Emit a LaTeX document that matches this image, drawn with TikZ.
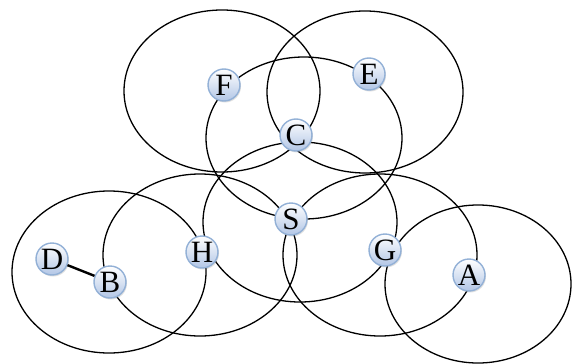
\documentclass[tikz,border=0pt]{standalone}
\usepackage{fontspec}
\setmainfont{Liberation Serif}
\usepackage{xcolor}
\definecolor{BallEdge}{RGB}{146,176,214}
\definecolor{BallFill}{RGB}{178,198,230}
\usepackage{tikz}
\usetikzlibrary{shadows}

\tikzset{
  cover/.style={draw=black,line width=1.3pt},
  sensor/.style={circle,minimum size=32pt,inner sep=0pt,draw=BallEdge,line width=1.4pt,
    top color=white,bottom color=BallFill,font=\fontsize{31}{31}\selectfont,
    drop shadow={shadow xshift=1pt,shadow yshift=-1.5pt,opacity=0.25}},
}

\begin{document}
\begin{tikzpicture}[x=1pt,y=-1pt]
  \useasboundingbox (0,0) rectangle (573,364);
  % coverage ranges
  \draw[cover] (222,91) ellipse (98 and 81);
  \draw[cover] (365,92) ellipse (98 and 81);
  \draw[cover] (304,138) ellipse (98 and 81);
  \draw[cover] (300,222) ellipse (97 and 80);
  \draw[cover] (200,255) ellipse (97 and 81);
  \draw[cover] (109,272) ellipse (97 and 81);
  \draw[cover] (380,255) ellipse (97 and 81);
  \draw[cover] (478,284) ellipse (93 and 79);
  % nodes
  \node[sensor] (F) at (224,85) {F};
  \node[sensor] (E) at (369,74) {E};
  \node[sensor] (C) at (296,135) {C};
  \node[sensor] (S) at (291,219) {S};
  \node[sensor] (H) at (202,252) {H};
  \node[sensor] (G) at (385,250) {G};
  \node[sensor] (A) at (469,275) {A};
  \node[sensor] (D) at (52,259) {D};
  \node[sensor] (B) at (110,282) {B};
  \draw[line width=2.4pt] (D) -- (B);
\end{tikzpicture}
\end{document}
